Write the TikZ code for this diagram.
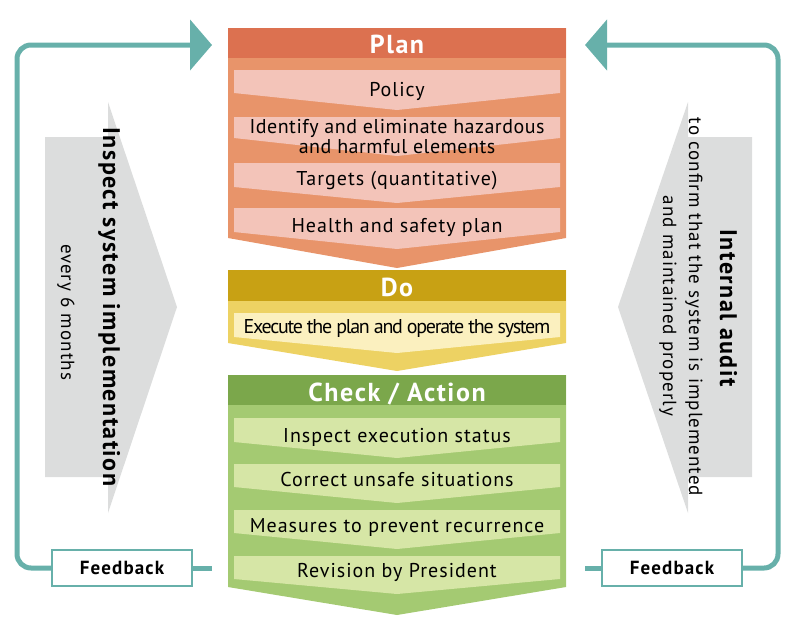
\documentclass[tikz,border=0pt]{standalone}
\usepackage{fontspec}
\setmainfont{PT Sans}
\usetikzlibrary{arrows.meta}
\definecolor{planH}{HTML}{DC7150}
\definecolor{planB}{HTML}{E8946A}
\definecolor{planI}{HTML}{F3C4B9}
\definecolor{doH}{HTML}{C8A114}
\definecolor{doB}{HTML}{EDD263}
\definecolor{doI}{HTML}{FBF0BF}
\definecolor{chkH}{HTML}{7BA74B}
\definecolor{chkB}{HTML}{A4CA72}
\definecolor{chkI}{HTML}{D6E6A6}
\definecolor{loop}{HTML}{67B0AA}
\definecolor{graybg}{HTML}{DCDDDD}
\newcommand\trk[1]{\addfontfeature{LetterSpace=#1}}
\tikzset{
  boxtxt/.style={anchor=base, inner sep=0pt, font=\fontsize{20}{22}\selectfont\trk{5}},
  headtxt/.style={anchor=base, inner sep=0pt, text=white, font=\fontsize{26}{28}\selectfont\bfseries\trk{6}},
  sidetitle/.style={anchor=base, inner sep=0pt, rotate=-90, font=\fontsize{24}{26}\selectfont\bfseries\trk{6}},
  sidetxt/.style={anchor=base, inner sep=0pt, rotate=-90, font=\fontsize{19}{21}\selectfont\trk{5.5}},
  fbbox/.style={draw=loop, line width=1.5pt, fill=white, minimum width=140pt, minimum height=36pt, inner sep=0pt, font=\fontsize{19}{21}\selectfont\bfseries\trk{6}},
  loopline/.style={draw=loop, line width=5pt},
  looparrow/.style={loopline, rounded corners=14pt, -{Triangle[length=22pt,width=50pt]}}
}
\begin{document}
\begin{tikzpicture}[x=1pt,y=-1pt]
\useasboundingbox (0,0) rectangle (800,630);
% gray side chevrons
\fill[graybg] (45,137) -- (108,137) -- (108,102) -- (177,307) -- (108,513) -- (108,477) -- (45,477) -- cycle;
\fill[graybg] (752,137) -- (688,137) -- (688,102) -- (618,307) -- (688,513) -- (688,477) -- (752,477) -- cycle;
% Plan block
\fill[planB] (228,28) -- (566,28) -- (566,238) -- (397,268) -- (228,238) -- cycle;
\fill[planH] (228,28) rectangle (566,58);
\fill[planI] (234,70) -- (560,70) -- (560,93) -- (397,110) -- (234,93) -- cycle;
\fill[planI] (234,117) -- (560,117) -- (560,138) -- (397,156) -- (234,138) -- cycle;
\fill[planI] (234,163) -- (560,163) -- (560,187) -- (397,203) -- (234,187) -- cycle;
\fill[planI] (234,208) -- (560,208) -- (560,232) -- (397,249) -- (234,232) -- cycle;
\node[headtxt] (plan) at (397,53) {Plan};
\node[boxtxt] (p1) at (397,96) {Policy};
\node[boxtxt, font=\fontsize{20}{22}\selectfont\trk{2.5}] (p2a) at (397,133) {Identify and eliminate hazardous};
\node[boxtxt, font=\fontsize{20}{22}\selectfont\trk{2.5}] (p2b) at (397,153) {and harmful elements};
\node[boxtxt] (p3) at (397,185) {Targets (quantitative)};
\node[boxtxt] (p4) at (397,232) {Health and safety plan};
% Do block
\fill[doB] (228,270) -- (566,270) -- (566,343) -- (397,371) -- (228,343) -- cycle;
\fill[doH] (228,270) rectangle (566,301);
\fill[doI] (234,313) -- (560,313) -- (560,337) -- (397,353) -- (234,337) -- cycle;
\node[headtxt] (do) at (397,296) {Do};
\node[boxtxt, font=\fontsize{20}{22}\selectfont\trk{-6.5}] (d1) at (397,333) {Execute the plan and operate the system};
% Check block
\fill[chkB] (228,375) -- (566,375) -- (566,587) -- (397,615) -- (228,587) -- cycle;
\fill[chkH] (228,375) rectangle (566,405);
\fill[chkI] (234,418) -- (560,418) -- (560,442) -- (397,458) -- (234,442) -- cycle;
\fill[chkI] (234,464) -- (560,464) -- (560,487) -- (397,503) -- (234,487) -- cycle;
\fill[chkI] (234,510) -- (560,510) -- (560,533) -- (397,549) -- (234,533) -- cycle;
\fill[chkI] (234,556) -- (560,556) -- (560,579) -- (397,594) -- (234,579) -- cycle;
\node[headtxt] (chk) at (397,401) {Check / Action};
\node[boxtxt] (c1) at (397,442) {Inspect execution status};
\node[boxtxt] (c2) at (397,486) {Correct unsafe situations};
\node[boxtxt] (c3) at (397,532) {Measures to prevent recurrence};
\node[boxtxt] (c4) at (397,577) {Revision by President};
% side texts
\node[sidetitle] (lt) at (103,307) {Inspect system implementation};
\node[sidetxt] (ls) at (61,312) {every 6 months};
\node[sidetitle] (rt) at (720,308) {Internal audit};
\node[sidetxt] (rs1) at (689,307) {to confirm that the system is implemented};
\node[sidetxt] (rs2) at (663,306) {and maintained properly};
% loops
\coordinate (lend) at (212,568);
\coordinate (ltip) at (212,45);
\coordinate (rend) at (585,568);
\coordinate (rtip) at (585,45);
\node[fbbox] (fbL) at (122,568) {Feedback};
\node[fbbox] (fbR) at (672,568) {Feedback};
\draw[loopline] (lend) -- (fbL.east);
\draw[looparrow] (fbL.west) -- (17,568) -- (17,45) -- (ltip);
\draw[loopline] (rend) -- (fbR.west);
\draw[looparrow] (fbR.east) -- (778,568) -- (778,45) -- (rtip);
\end{tikzpicture}
\end{document}
